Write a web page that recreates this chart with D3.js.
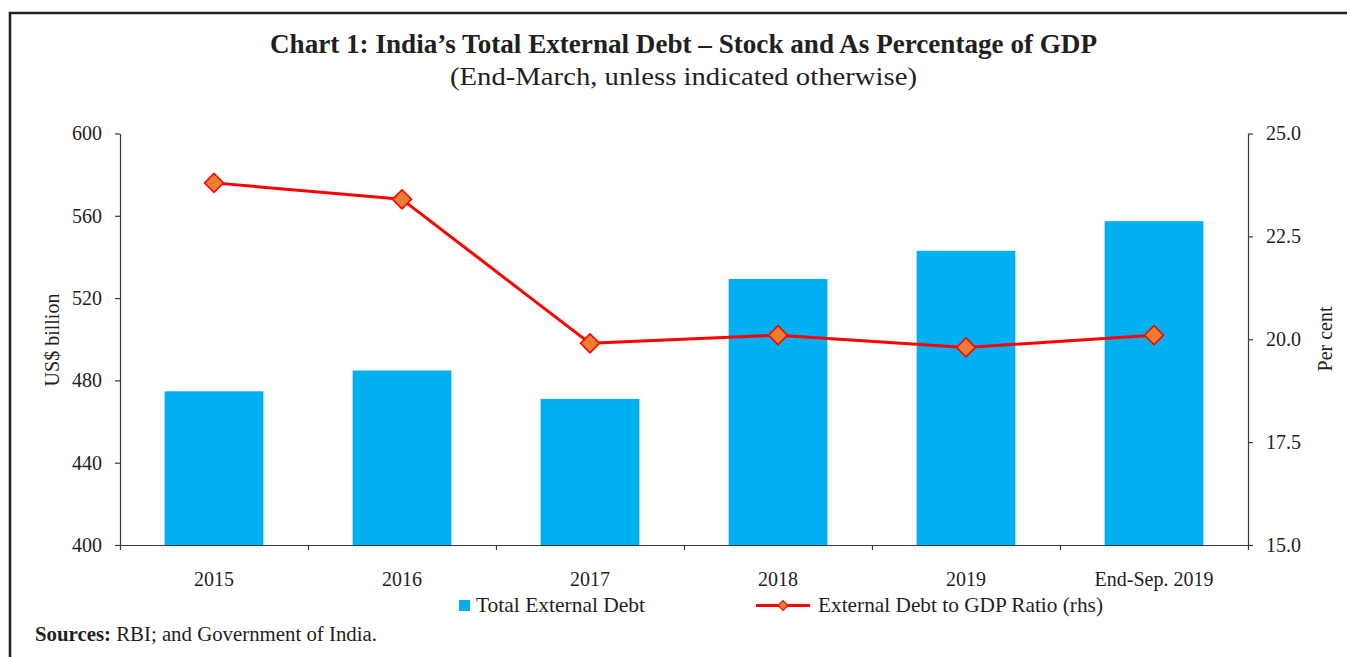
<!DOCTYPE html>
<html>
<head>
<meta charset="utf-8">
<script src="https://cdn.jsdelivr.net/npm/d3@7"></script>
<style>
  html, body { margin: 0; padding: 0; background: #fff; }
  svg { display: block; }
  text { font-family: "Liberation Serif", "DejaVu Serif", serif; fill: #231f20; }
</style>
</head>
<body>
<svg id="chart" width="1347" height="657"></svg>
<script>
// Categories (end-March unless stated)
const categories = ["2015", "2016", "2017", "2018", "2019", "End-Sep. 2019"];
// Total external debt, US$ billion
const debtStock = [474.7, 484.8, 471.0, 529.3, 543.0, 557.4];
// External debt to GDP ratio, per cent
const debtToGdp = [23.8, 23.4, 19.9, 20.1, 19.8, 20.1];
// Axis ticks
const leftTicks = [400, 440, 480, 520, 560, 600];
const rightTicks = [15.0, 17.5, 20.0, 22.5, 25.0];

const svg = d3.select("#chart");
const W = 1347, H = 657;
const plot = { left: 120, right: 1248, top: 133.5, bottom: 545 };

const barColor = "#00b0f0";
const lineColor = "#ff0000";
const markerFill = "#ed7d31";
const axisColor = "#3a3a3a";

// Frame
svg.append("path")
  .attr("d", `M10,${H + 5} L10,13 L${W + 5},13`)
  .attr("fill", "none")
  .attr("stroke", "#222")
  .attr("stroke-width", 2.6);

// Titles
svg.append("text")
  .attr("x", 683.5).attr("y", 53)
  .attr("text-anchor", "middle")
  .attr("font-size", 28).attr("font-weight", "bold")
  .attr("textLength", 827).attr("lengthAdjust", "spacingAndGlyphs")
  .text("Chart 1: India’s Total External Debt – Stock and As Percentage of GDP");

svg.append("text")
  .attr("x", 683.5).attr("y", 85)
  .attr("text-anchor", "middle")
  .attr("font-size", 26)
  .attr("textLength", 467).attr("lengthAdjust", "spacingAndGlyphs")
  .text("(End-March, unless indicated otherwise)");

// Scales
const x = d3.scaleBand()
  .domain(categories)
  .range([plot.left, plot.right])
  .paddingInner(0.475)
  .paddingOuter(0.2375);

const slot = d3.scaleLinear()
  .domain([0, categories.length])
  .range([plot.left, plot.right]);

const yLeft = d3.scaleLinear().domain([400, 600]).range([plot.bottom, plot.top]);
const yRight = d3.scaleLinear().domain([15, 25]).range([plot.bottom, plot.top]);

// Bars
svg.append("g")
  .selectAll("rect")
  .data(categories)
  .join("rect")
  .attr("x", c => x(c))
  .attr("width", x.bandwidth())
  .attr("y", (c, i) => yLeft(debtStock[i]))
  .attr("height", (c, i) => yLeft(400) - yLeft(debtStock[i]))
  .attr("fill", barColor);

// Axes
function styleAxis(g) {
  g.select(".domain").attr("stroke", axisColor).attr("stroke-width", 1.2);
  g.selectAll(".tick line").attr("stroke", axisColor).attr("stroke-width", 1.2);
  g.selectAll(".tick text")
    .attr("fill", "#231f20")
    .style("font-family", '"Liberation Serif", "DejaVu Serif", serif')
    .style("font-size", "20px");
}

svg.append("g")
  .attr("transform", `translate(${plot.left},0)`)
  .call(d3.axisLeft(yLeft).tickValues(leftTicks).tickSize(5).tickSizeOuter(0).tickPadding(13))
  .call(styleAxis);

svg.append("g")
  .attr("transform", `translate(${plot.right},0)`)
  .call(d3.axisRight(yRight).tickValues(rightTicks).tickFormat(d3.format(".1f"))
    .tickSize(5).tickSizeOuter(0).tickPadding(13))
  .call(styleAxis);

// Category boundary ticks on the x axis
const xAxisG = svg.append("g")
  .attr("transform", `translate(0,${plot.bottom})`)
  .call(d3.axisBottom(slot).tickValues(d3.range(categories.length + 1))
    .tickSize(5).tickSizeOuter(0).tickFormat(""))
  .call(styleAxis);
xAxisG.select(".domain").attr("d", `M${plot.left - 5},0.5H${plot.right}`);

// Category labels
svg.append("g")
  .attr("transform", `translate(0,${plot.bottom})`)
  .call(d3.axisBottom(x).tickSize(0).tickPadding(27))
  .call(g => g.select(".domain").remove())
  .call(styleAxis);

// Axis titles
svg.append("text")
  .attr("transform", `translate(59,340) rotate(-90)`)
  .attr("text-anchor", "middle")
  .attr("font-size", 20)
  .text("US$ billion");

svg.append("text")
  .attr("transform", `translate(1332,339) rotate(-90)`)
  .attr("text-anchor", "middle")
  .attr("font-size", 20)
  .text("Per cent");

// Ratio line
const cx = c => x(c) + x.bandwidth() / 2;
const line = d3.line()
  .x((d, i) => cx(categories[i]))
  .y(d => yRight(d));

svg.append("path")
  .datum(debtToGdp)
  .attr("d", line)
  .attr("fill", "none")
  .attr("stroke", lineColor)
  .attr("stroke-width", 3)
  .attr("stroke-linejoin", "round");

const diamond = d3.symbol().type(d3.symbolSquare).size(180);
svg.append("g")
  .selectAll("path")
  .data(debtToGdp)
  .join("path")
  .attr("d", diamond)
  .attr("transform", (d, i) => `translate(${cx(categories[i])},${yRight(d)}) rotate(45)`)
  .attr("fill", markerFill)
  .attr("stroke", lineColor)
  .attr("stroke-width", 1.6);

// Legend
const legend = svg.append("g");
legend.append("rect")
  .attr("x", 459).attr("y", 600).attr("width", 11).attr("height", 11)
  .attr("fill", barColor);
legend.append("text")
  .attr("x", 476).attr("y", 612)
  .attr("font-size", 21)
  .attr("textLength", 169).attr("lengthAdjust", "spacingAndGlyphs")
  .text("Total External Debt");

legend.append("line")
  .attr("x1", 756).attr("x2", 810).attr("y1", 605.5).attr("y2", 605.5)
  .attr("stroke", lineColor).attr("stroke-width", 3);
legend.append("path")
  .attr("d", d3.symbol().type(d3.symbolSquare).size(50))
  .attr("transform", "translate(783,605.5) rotate(45)")
  .attr("fill", markerFill)
  .attr("stroke", lineColor)
  .attr("stroke-width", 1.2);
legend.append("text")
  .attr("x", 818).attr("y", 612)
  .attr("font-size", 21)
  .attr("textLength", 285).attr("lengthAdjust", "spacingAndGlyphs")
  .text("External Debt to GDP Ratio (rhs)");

// Source note
const src = svg.append("text")
  .attr("x", 35).attr("y", 641)
  .attr("font-size", 20)
  .attr("textLength", 342).attr("lengthAdjust", "spacingAndGlyphs");
src.append("tspan").attr("font-weight", "bold").text("Sources:");
src.append("tspan").text(" RBI; and Government of India.");
</script>
</body>
</html>
